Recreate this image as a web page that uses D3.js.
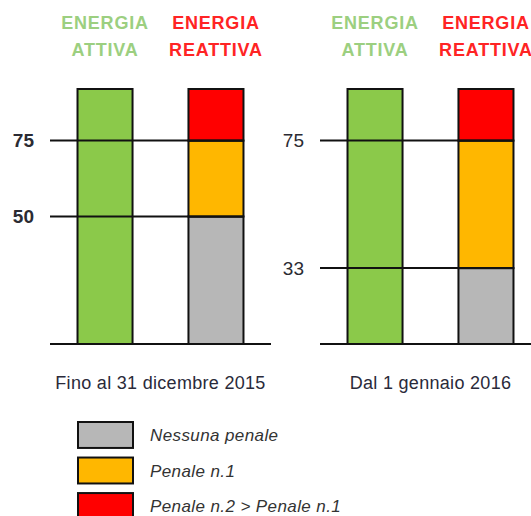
<!DOCTYPE html>
<html>
<head>
<meta charset="utf-8">
<script src="https://cdn.jsdelivr.net/npm/d3@7"></script>
<style>
  body { margin: 0; background: #fff; }
  svg { display: block; font-family: "Liberation Sans", Arial, sans-serif; }
</style>
</head>
<body>
<div id="chart"></div>
<script>
// Dati
const periods = ["Fino al 31 dicembre 2015", "Dal 1 gennaio 2016"];
const energyTypes = ["ATTIVA", "REATTIVA"];
const thresholds = [[50, 75], [33, 75]];   // soglie di penale per periodo
const barTop = 92;                          // sommità schematica delle barre
const axisFloor = 8;                        // valore alla linea di base (asse troncato)
const penaltyLabels = ["Nessuna penale", "Penale n.1", "Penale n.2 > Penale n.1"];
const penaltyColors = ["#b7b7b7", "#ffb700", "#ff0000"];
const activeColor = "#8bc94a";
const headerColors = ["#9ccf80", "#ff2424"];

const W = 531, H = 516;
const svg = d3.select('#chart').append('svg')
    .attr('width', W)
    .attr('height', H);

// Scale
const y = d3.scaleLinear()
    .domain([axisFloor, barTop])
    .range([344, 89])
    .clamp(true);

const x = d3.scaleBand()
    .domain(energyTypes)
    .range([50, 271])
    .paddingInner(0.504)
    .paddingOuter(0.248);

const panelOffset = d3.scaleOrdinal().domain(periods).range([0, 270]);

periods.forEach((period, p) => {
    const g = svg.append('g').attr('transform', `translate(${panelOffset(period)},0)`);
    const t = thresholds[p];

    // Intestazioni
    energyTypes.forEach((type, i) => {
        const txt = g.append('text')
            .attr('x', x(type) + x.bandwidth() / 2)
            .attr('text-anchor', 'middle')
            .attr('fill', headerColors[i])
            .style('font-size', '18px')
            .style('font-weight', 'bold')
            .style('letter-spacing', '0.8px');
        txt.append('tspan').attr('x', x(type) + x.bandwidth() / 2).attr('y', 29).text('ENERGIA');
        txt.append('tspan').attr('x', x(type) + x.bandwidth() / 2).attr('y', 56).text(type);
    });

    // Barra energia attiva
    g.append('rect')
        .attr('x', x('ATTIVA'))
        .attr('y', y(barTop))
        .attr('width', x.bandwidth())
        .attr('height', y(0) - y(barTop))
        .attr('fill', activeColor)
        .attr('stroke', '#111')
        .attr('stroke-width', 2);

    // Barra energia reattiva, a segmenti
    const segs = [[0, t[0]], [t[0], t[1]], [t[1], barTop]];
    g.selectAll('.seg')
        .data(segs)
        .enter()
        .append('rect')
        .attr('class', 'seg')
        .attr('x', x('REATTIVA'))
        .attr('y', d => y(d[1]))
        .attr('width', x.bandwidth())
        .attr('height', d => y(d[0]) - y(d[1]))
        .attr('fill', (d, i) => penaltyColors[i])
        .attr('stroke', '#111')
        .attr('stroke-width', 2);

    // Linee di soglia
    g.selectAll('.thr')
        .data(t)
        .enter()
        .append('line')
        .attr('x1', x.range()[0])
        .attr('x2', x('REATTIVA') + x.bandwidth())
        .attr('y1', d => y(d))
        .attr('y2', d => y(d))
        .attr('stroke', '#111')
        .attr('stroke-width', 2);

    // Etichette soglie
    g.selectAll('.thr-label')
        .data(t)
        .enter()
        .append('text')
        .attr('x', 34)
        .attr('y', d => y(d))
        .attr('dy', '0.36em')
        .attr('text-anchor', 'end')
        .attr('fill', '#2b2b33')
        .style('font-size', '19px')
        .style('font-weight', p === 0 ? 'bold' : 'normal')
        .text(d => d);

    // Linea di base
    g.append('line')
        .attr('x1', x.range()[0])
        .attr('x2', x.range()[1])
        .attr('y1', y(0))
        .attr('y2', y(0))
        .attr('stroke', '#111')
        .attr('stroke-width', 2);

    // Etichetta del periodo
    g.append('text')
        .attr('x', (x('ATTIVA') + x('REATTIVA') + x.bandwidth()) / 2)
        .attr('y', 389)
        .attr('text-anchor', 'middle')
        .attr('fill', '#2a2a3a')
        .style('font-size', '18px')
        .style('letter-spacing', '0.3px')
        .text(period);
});

// Legenda
const legend = svg.append('g');
const legendY = d3.scaleBand()
    .domain(penaltyLabels)
    .range([422, 519])
    .paddingInner(0.27);

legend.selectAll('rect')
    .data(penaltyLabels)
    .enter()
    .append('rect')
    .attr('x', 78)
    .attr('y', d => legendY(d))
    .attr('width', 55)
    .attr('height', legendY.bandwidth())
    .attr('fill', (d, i) => penaltyColors[i])
    .attr('stroke', '#111')
    .attr('stroke-width', 2);

legend.selectAll('text')
    .data(penaltyLabels)
    .enter()
    .append('text')
    .attr('x', 150)
    .attr('y', d => legendY(d) + legendY.bandwidth() / 2)
    .attr('dy', '0.36em')
    .attr('fill', '#333')
    .style('font-size', '17px')
    .style('font-style', 'italic')
    .style('letter-spacing', '0.4px')
    .text(d => d);
</script>
</body>
</html>
